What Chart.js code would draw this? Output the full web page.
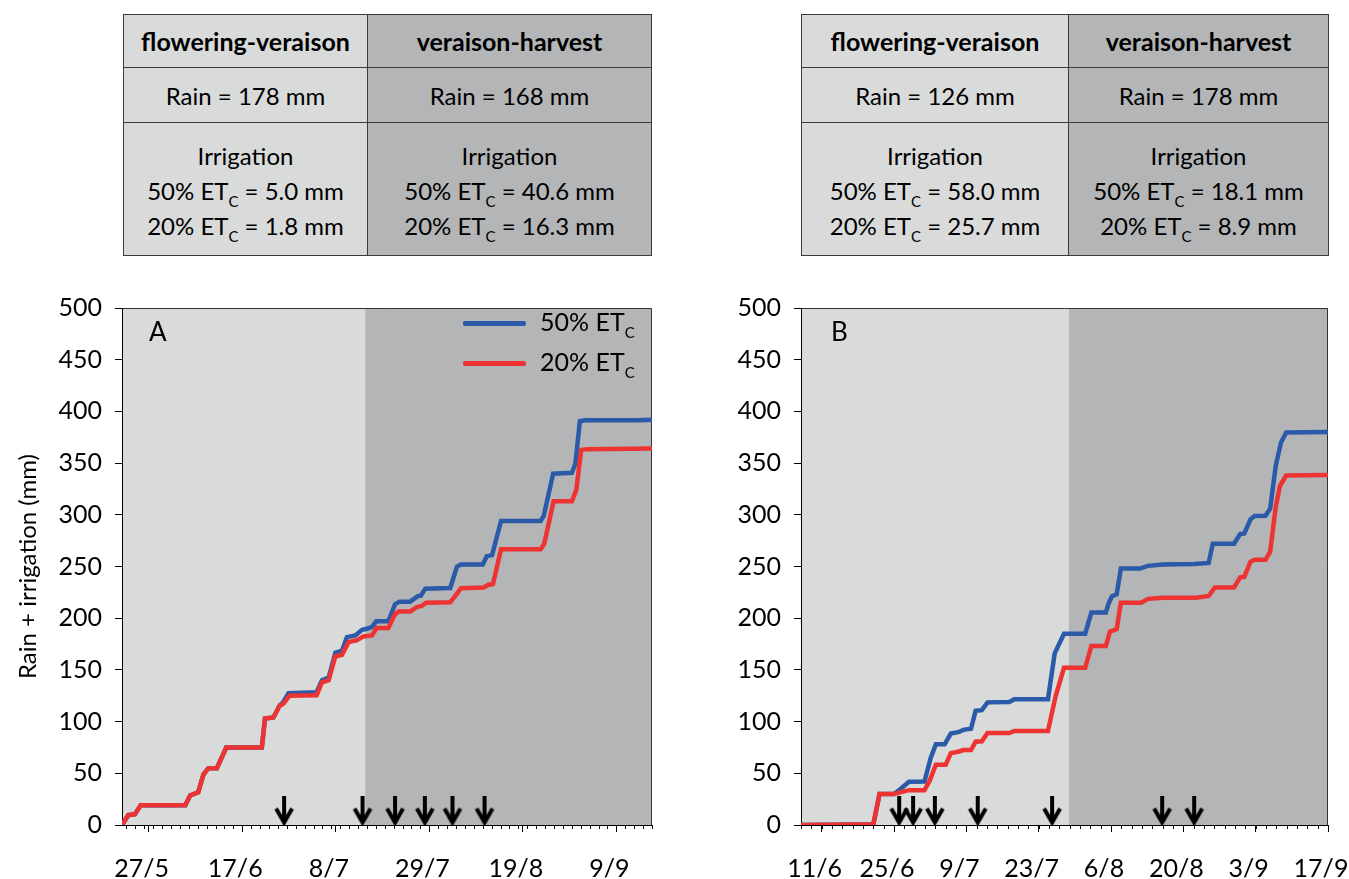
<!DOCTYPE html>
<html>
<head>
<meta charset="utf-8">
<script src="https://cdn.jsdelivr.net/npm/chart.js@4.4.1/dist/chart.umd.min.js"></script>
<style>
  body { margin: 0; width: 1349px; height: 879px; background: #fff; position: relative; overflow: hidden; font-family: Lato, sans-serif; color: #000; }
  canvas { position: absolute; top: 280px; }
  .tbl { position: absolute; top: 14px; border-collapse: collapse; font-size: 24px; table-layout: fixed; }
  .tbl td { border: 1.5px solid #3a3a3a; text-align: center; padding: 0; vertical-align: middle; }
  .tbl b { font-size: 25px; }
  .tbl .l { background: #d9dada; }
  .tbl .r { background: #b3b5b6; }
  .tbl .irr { line-height: 35px; padding-top: 2px; }
  sub { font-size: 15px; vertical-align: -7px; line-height: 0; }
  .leg { position: absolute; font-size: 25px; line-height: 25px; }
  .swatch { position: absolute; height: 5px; width: 63px; border-radius: 2px; }
  .panel { position: absolute; font-size: 26px; line-height: 26px; top: 318px; }
</style>
</head>
<body>

<table class="tbl" style="left:123px;width:528px;height:242px">
  <colgroup><col style="width:244px"><col style="width:284px"></colgroup>
  <tr style="height:53px"><td class="l"><b>flowering-veraison</b></td><td class="r"><b>veraison-harvest</b></td></tr>
  <tr style="height:55px"><td class="l">Rain = 178 mm</td><td class="r">Rain = 168 mm</td></tr>
  <tr><td class="l irr">Irrigation<br>50% ET<sub>C</sub> = 5.0 mm<br>20% ET<sub>C</sub> = 1.8 mm</td>
      <td class="r irr">Irrigation<br>50% ET<sub>C</sub> = 40.6 mm<br>20% ET<sub>C</sub> = 16.3 mm</td></tr>
</table>

<table class="tbl" style="left:801px;width:527px;height:242px">
  <colgroup><col style="width:267px"><col style="width:260px"></colgroup>
  <tr style="height:53px"><td class="l"><b>flowering-veraison</b></td><td class="r"><b>veraison-harvest</b></td></tr>
  <tr style="height:55px"><td class="l">Rain = 126 mm</td><td class="r">Rain = 178 mm</td></tr>
  <tr><td class="l irr">Irrigation<br>50% ET<sub>C</sub> = 58.0 mm<br>20% ET<sub>C</sub> = 25.7 mm</td>
      <td class="r irr">Irrigation<br>50% ET<sub>C</sub> = 18.1 mm<br>20% ET<sub>C</sub> = 8.9 mm</td></tr>
</table>

<canvas id="chartA" width="680" height="599" style="left:0px"></canvas>
<canvas id="chartB" width="659" height="599" style="left:690px"></canvas>

<div class="panel" style="left:149px">A</div>
<div class="panel" style="left:831px">B</div>

<div class="swatch" style="left:463px;top:321px;background:#2a5aa8"></div>
<div class="leg" style="left:540px;top:309px">50% ET<sub>C</sub></div>
<div class="swatch" style="left:463px;top:361px;background:#ee3333"></div>
<div class="leg" style="left:540px;top:349px">20% ET<sub>C</sub></div>

<script>
'use strict';

// panel A: days counted from startA
const startA = '21/5';
const endA = '17/9';
const xLabelsA = ['27/5', '17/6', '8/7', '29/7', '19/8', '9/9'];
const veraisonA = 54.6;
const arrowsA = [36.4, 54.0, 61.3, 68.0, 74.2, 81.4];

const dayBlueA = [0, 1.4, 2.9, 4.2, 14.2, 15.3, 17.1, 18.3, 19.4, 21.3, 23.4, 31.4, 32.1, 34, 35.4, 36.2, 37.4, 43.7, 44.9, 46.4,
  47.9, 49.4, 50.5, 52.4, 53.9, 55, 56.1, 57.1, 59.8, 61.3, 62.3, 64.7, 66.4, 67.1, 68.1, 73.7, 75.2, 76.1, 81, 81.9,
  83.1, 85.1, 94, 94.7, 96.8, 101, 101.8, 102.8, 104, 116, 119];
const blueA = [0, 9.5, 10.4, 19, 19, 28.5, 31.6, 49, 55, 55, 75, 75, 103, 104, 115.5, 119, 127.4, 128.5, 140, 142.5,
  166.5, 168.5, 181.7, 183.3, 188.8, 189.8, 191.3, 197, 197, 213.5, 216, 216, 221.3, 221.8, 228.6, 229.2, 249.7, 252, 252, 260,
  261, 294, 294, 299, 339.7, 340.6, 349.3, 390.5, 391.4, 391.4, 392];

const dayRedA = [0, 1.4, 2.9, 4.2, 14.2, 15.3, 17.1, 18.3, 19.4, 21.3, 23.4, 31.4, 32.1, 34, 35.4, 36.2, 37.6, 43.7, 44.9, 46.4,
  47.9, 49.4, 50.9, 52.7, 54.2, 56.1, 57.2, 59.8, 61.3, 62.1, 64.7, 66.2, 67.3, 68.3, 73.7, 74.5, 76.1, 81.2, 82.3, 83.3,
  85.1, 94, 94.8, 96.9, 101, 102, 103.1, 104.4, 119];
const redA = [0, 9.5, 10.4, 19, 19, 28.5, 31.6, 49, 55, 55, 75, 75, 103, 104, 115.5, 117, 125, 125.5, 138, 140,
  163, 164.5, 177, 178.6, 182.4, 183.3, 190.6, 190.6, 204, 206.4, 206.4, 210.8, 211.8, 214.9, 215.5, 219.6, 229, 229.7, 232.4, 233,
  266.6, 266.6, 272, 313, 313, 324, 362.6, 363.5, 364];

// panel B: days counted from startB
const startB = '7/6';
const endB = '17/9';
const xLabelsB = ['11/6', '25/6', '9/7', '23/7', '6/8', '20/8', '3/9', '17/9'];
const veraisonB = 51.8;
const arrowsB = [19.0, 21.7, 25.9, 34.2, 48.6, 69.9, 76.1];

const dayBlueB = [0, 11.1, 14, 15.2, 18, 19.2, 20.9, 23.9, 25.1, 26.1, 27.8, 29, 30.6, 31.4, 32.9, 33.8, 35, 36.1, 40.3, 41.3,
  47.8, 49.1, 50.9, 55, 56.2, 59, 59.6, 60.2, 61.1, 61.9, 65.6, 67.1, 70, 76.1, 78.9, 79.7, 83.8, 85, 85.8, 87,
  87.8, 89.9, 90.8, 91.9, 92.9, 93.9, 102];
const blueB = [0, 0.6, 0.6, 30, 30, 34.6, 41.9, 42, 64.8, 78, 78, 88.4, 90, 92, 93, 110.5, 111.1, 118.6, 119, 121.7,
  121.7, 166, 185, 185, 205.5, 205.5, 215, 221.3, 223, 248, 248, 250.6, 252, 252.5, 253.5, 272, 272, 281.3, 282, 295.6,
  298.9, 299, 305.8, 347.7, 370, 379.5, 380];

const dayRedB = [0, 11.1, 14, 15.2, 18, 19.2, 20.9, 23.9, 24.9, 26.1, 28, 29, 30.6, 31.4, 32.9, 33.8, 35, 36.1, 40.3, 41.3,
  47.8, 49.3, 50.9, 55, 56.2, 59, 59.8, 61.1, 61.9, 65.8, 67.2, 70, 76.5, 78.9, 80.1, 83.8, 85, 85.8, 87, 87.8,
  89.9, 90.8, 91.9, 92.7, 93.9, 102];
const redB = [0, 0.6, 0.6, 30, 30, 31.6, 33.7, 33.7, 42.7, 58.3, 58.3, 69.5, 71, 72.5, 72.5, 80.6, 81, 89, 89, 91,
  91, 125, 152, 152, 173, 173, 187, 189.5, 215, 215, 218.7, 219.7, 219.7, 221.5, 229.8, 229.8, 239.5, 240, 254.7, 256.6,
  256.6, 264, 308.3, 328, 338, 338.5];

const BLUE = '#2a5aa8';
const RED = '#ee3333';
const LIGHT = '#d9dada';
const DARK = '#b3b5b6';
const FONT = 'Lato';

function toDoy(s) {
  const [d, m] = s.split('/').map(Number);
  return (Date.UTC(2013, m - 1, d) - Date.UTC(2013, 0, 0)) / 86400000;
}

function makeArrow() {
  const c = document.createElement('canvas');
  c.width = 22; c.height = 30;
  const g = c.getContext('2d');
  g.strokeStyle = '#000';
  g.lineWidth = 4;
  g.beginPath(); g.moveTo(11, 0); g.lineTo(11, 27); g.stroke();
  g.beginPath(); g.moveTo(3, 13); g.lineTo(11, 27); g.lineTo(19, 13); g.stroke();
  return c;
}
const arrowImg = makeArrow();

const shading = {
  id: 'shading',
  beforeDraw(chart, args, opts) {
    const { ctx, chartArea: a, scales: { x } } = chart;
    const v = x.getPixelForValue(opts.veraison);
    ctx.save();
    ctx.fillStyle = LIGHT;
    ctx.fillRect(a.left, a.top, v - a.left, a.bottom - a.top);
    ctx.fillStyle = DARK;
    ctx.fillRect(v, a.top, a.right - v, a.bottom - a.top);
    ctx.strokeStyle = '#333';
    ctx.lineWidth = 1;
    ctx.beginPath();
    ctx.moveTo(a.left, a.top + 0.5);
    ctx.lineTo(a.right - 0.5, a.top + 0.5);
    ctx.lineTo(a.right - 0.5, a.bottom);
    ctx.stroke();
    ctx.restore();
  },
  afterDraw(chart, args, opts) {
    const { ctx, chartArea: a, scales: { x } } = chart;
    ctx.save();
    ctx.strokeStyle = '#000';
    ctx.lineWidth = 1;
    ctx.beginPath();
    for (let d = x.min + opts.minorStart; d <= x.max; d += 2) {
      const px = Math.round(x.getPixelForValue(d)) + 0.5;
      ctx.moveTo(px, a.bottom);
      ctx.lineTo(px, a.bottom + 4);
    }
    ctx.stroke();
    ctx.restore();
  }
};

function renderChart(id, start, end, xLabels, dayBlue, blue, dayRed, red, arrows, veraison, minorStart, yWidth, yTitle, padRight) {
  const s = toDoy(start);
  const tickVals = xLabels.map(toDoy);
  const pts = (days, vals) => days.map((d, i) => ({ x: s + d, y: vals[i] }));

  new Chart(document.getElementById(id), {
    type: 'line',
    data: {
      datasets: [
        {
          label: 'irrigation',
          data: arrows.map(d => ({ x: s + d, y: 14 })),
          showLine: false,
          pointStyle: arrowImg,
          pointRadius: 10
        },
        {
          label: '20% ETc',
          data: pts(dayRed, red),
          borderColor: RED,
          borderWidth: 4.5,
          pointRadius: 0,
          tension: 0
        },
        {
          label: '50% ETc',
          data: pts(dayBlue, blue),
          borderColor: BLUE,
          borderWidth: 4.5,
          pointRadius: 0,
          tension: 0
        }
      ]
    },
    options: {
      responsive: false,
      animation: false,
      events: [],
      layout: { padding: { top: 18, right: padRight, left: 0, bottom: 0 } },
      plugins: {
        legend: { display: false },
        tooltip: { enabled: false },
        shading: { veraison: s + veraison, minorStart: minorStart }
      },
      scales: {
        x: {
          type: 'linear',
          min: s,
          max: toDoy(end),
          afterBuildTicks: axis => { axis.ticks = tickVals.map(v => ({ value: v })); },
          afterFit: axis => {
            axis.height = 54;
            axis.paddingLeft = 0;
            axis.paddingRight = 0;
          },
          grid: { drawOnChartArea: false, tickLength: 7, tickColor: '#000' },
          border: { color: '#000', width: 1 },
          ticks: {
            color: '#000',
            font: { family: FONT, size: 25 },
            padding: 22,
            labelOffset: -7,
            maxRotation: 0,
            autoSkip: false,
            callback: v => xLabels[tickVals.indexOf(v)]
          }
        },
        y: {
          min: 0,
          max: 500,
          afterFit: axis => { axis.width = yWidth; },
          grid: { drawOnChartArea: false, tickLength: 7, tickColor: '#000' },
          border: { color: '#000', width: 1 },
          ticks: { stepSize: 50, color: '#000', font: { family: FONT, size: 25 }, padding: 13 },
          title: {
            display: !!yTitle,
            text: yTitle,
            color: '#000',
            font: { family: FONT, size: 24 },
            padding: { top: 14, bottom: 0 }
          }
        }
      }
    },
    plugins: [shading]
  });
}

renderChart('chartA', startA, endA, xLabelsA, dayBlueA, blueA, dayRedA, redA, arrowsA, veraisonA, 1, 122, 'Rain + irrigation (mm)', 28);
renderChart('chartB', startB, endB, xLabelsB, dayBlueB, blueB, dayRedB, redB, arrowsB, veraisonB, 0, 111, '', 21);
</script>
</body>
</html>
